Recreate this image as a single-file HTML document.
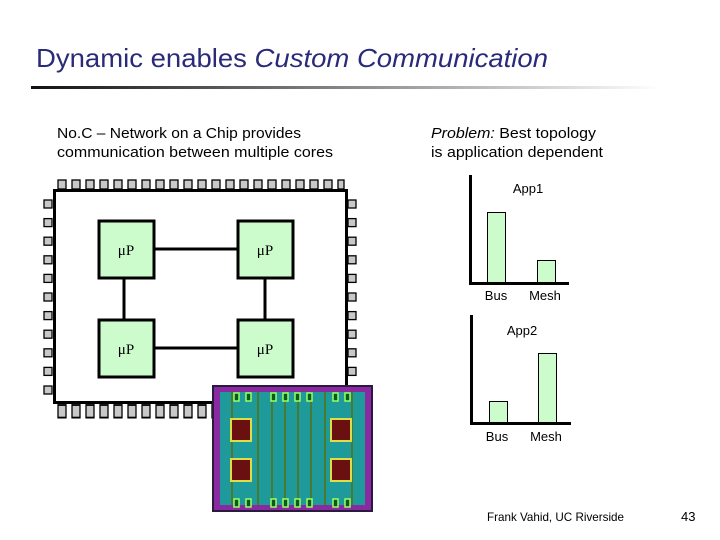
<!DOCTYPE html>
<html><head><meta charset="utf-8"><style>
html,body{margin:0;padding:0;background:#fff;}
svg{display:block;font-family:"Liberation Sans",sans-serif;}
</style></head><body>
<svg width="720" height="540" viewBox="0 0 720 540" xmlns="http://www.w3.org/2000/svg">
<defs>
<linearGradient id="ul" x1="0" x2="1" y1="0" y2="0">
<stop offset="0" stop-color="#111"/><stop offset="0.5" stop-color="#888"/><stop offset="1" stop-color="#fff"/>
</linearGradient>
</defs>
<text x="36" y="67" font-size="26" fill="#2a2a7a" textLength="512" lengthAdjust="spacingAndGlyphs">Dynamic enables <tspan font-style="italic">Custom Communication</tspan></text>
<rect x="31" y="86" width="630" height="3" fill="url(#ul)"/>

<text x="57" y="138" font-size="14.5" fill="#000" textLength="244" lengthAdjust="spacingAndGlyphs">No.C – Network on a Chip provides</text>
<text x="57" y="157" font-size="14.5" fill="#000" textLength="276" lengthAdjust="spacingAndGlyphs">communication between multiple cores</text>
<text x="431" y="138" font-size="14.5" fill="#000" textLength="165" lengthAdjust="spacingAndGlyphs"><tspan font-style="italic">Problem:</tspan> Best topology</text>
<text x="431" y="157" font-size="14.5" fill="#000" textLength="172" lengthAdjust="spacingAndGlyphs">is application dependent</text>

<g fill="#c8c8c8" stroke="#000" stroke-width="1.3">
<g id="tp">
<rect x="58" y="180" width="8" height="9"/><rect x="72" y="180" width="8" height="9"/><rect x="86" y="180" width="8" height="9"/><rect x="100" y="180" width="8" height="9"/><rect x="114" y="180" width="8" height="9"/><rect x="128" y="180" width="8" height="9"/><rect x="142" y="180" width="8" height="9"/><rect x="156" y="180" width="8" height="9"/><rect x="170" y="180" width="8" height="9"/><rect x="184" y="180" width="8" height="9"/><rect x="198" y="180" width="8" height="9"/><rect x="212" y="180" width="8" height="9"/><rect x="226" y="180" width="8" height="9"/><rect x="240" y="180" width="8" height="9"/><rect x="254" y="180" width="8" height="9"/><rect x="268" y="180" width="8" height="9"/><rect x="282" y="180" width="8" height="9"/><rect x="296" y="180" width="8" height="9"/><rect x="310" y="180" width="8" height="9"/><rect x="324" y="180" width="8" height="9"/><rect x="338" y="180" width="6" height="9"/>
</g>
<use href="#tp" transform="translate(0,405) scale(1,1.4) translate(0,-180)"/>
<g id="lp">
<rect x="44" y="200" width="8" height="8"/><rect x="44" y="218.6" width="8" height="8"/><rect x="44" y="237.2" width="8" height="8"/><rect x="44" y="255.8" width="8" height="8"/><rect x="44" y="274.4" width="8" height="8"/><rect x="44" y="293" width="8" height="8"/><rect x="44" y="311.6" width="8" height="8"/><rect x="44" y="330.2" width="8" height="8"/><rect x="44" y="348.8" width="8" height="8"/><rect x="44" y="367.4" width="8" height="8"/><rect x="44" y="386" width="8" height="8"/>
</g>
<use href="#lp" transform="translate(304,0)"/>
</g>
<rect x="54.5" y="190.5" width="292" height="212" fill="#fff" stroke="#000" stroke-width="3"/>

<g stroke="#000" stroke-width="3">
<line x1="154" y1="249" x2="237" y2="249"/>
<line x1="154" y1="348" x2="237" y2="348"/>
<line x1="124" y1="278" x2="124" y2="319"/>
<line x1="265" y1="278" x2="265" y2="319"/>
</g>
<g fill="#ccfccc" stroke="#000" stroke-width="3">
<rect x="99" y="221" width="55" height="57"/>
<rect x="238" y="221" width="55" height="57"/>
<rect x="99" y="320" width="55" height="57"/>
<rect x="238" y="320" width="55" height="57"/>
</g>
<g font-family="'Liberation Serif',serif" font-size="15" fill="#000" text-anchor="middle">
<text x="126" y="255">μP</text><text x="265" y="255">μP</text>
<text x="126" y="354">μP</text><text x="265" y="354">μP</text>
</g>

<rect x="212" y="385" width="161" height="127" fill="#2a1a40"/>
<rect x="214" y="387" width="157" height="123" fill="#8a2aa0"/>
<rect x="220" y="392" width="145" height="113" fill="#1e9a9a"/>
<g stroke="#4a7a30" stroke-width="2">
<line x1="232" y1="392" x2="232" y2="505"/><line x1="258" y1="392" x2="258" y2="505"/><line x1="272" y1="392" x2="272" y2="505"/><line x1="285" y1="392" x2="285" y2="505"/><line x1="298" y1="392" x2="298" y2="505"/><line x1="311" y1="392" x2="311" y2="505"/><line x1="325" y1="392" x2="325" y2="505"/><line x1="352" y1="392" x2="352" y2="505"/>
</g>
<g fill="#0a5a20" stroke="#9f6" stroke-width="1.5">
<rect x="234" y="393" width="5" height="8"/><rect x="246" y="393" width="5" height="8"/><rect x="271" y="393" width="5" height="8"/><rect x="283" y="393" width="5" height="8"/><rect x="295" y="393" width="5" height="8"/><rect x="307" y="393" width="5" height="8"/><rect x="333" y="393" width="5" height="8"/><rect x="345" y="393" width="5" height="8"/>
<rect x="234" y="499" width="5" height="8"/><rect x="246" y="499" width="5" height="8"/><rect x="271" y="499" width="5" height="8"/><rect x="283" y="499" width="5" height="8"/><rect x="295" y="499" width="5" height="8"/><rect x="307" y="499" width="5" height="8"/><rect x="333" y="499" width="5" height="8"/><rect x="345" y="499" width="5" height="8"/>
</g>
<g fill="#6a1010" stroke="#dd4" stroke-width="2">
<rect x="231" y="419" width="20" height="22"/><rect x="331" y="419" width="20" height="22"/>
<rect x="231" y="459" width="20" height="22"/><rect x="331" y="459" width="20" height="22"/>
</g>

<g stroke="#000" stroke-width="3" fill="none">
<polyline points="470.5,175 470.5,283.5 569,283.5"/>
<polyline points="471.5,315 471.5,423.5 571,423.5"/>
</g>
<g fill="#ccfccc" stroke="#000" stroke-width="1">
<rect x="487.5" y="212.5" width="18" height="70"/>
<rect x="537.5" y="260.5" width="18" height="22"/>
<rect x="489.5" y="401.5" width="18" height="21"/>
<rect x="538.5" y="353.5" width="18" height="69"/>
</g>
<g font-size="13" fill="#000" text-anchor="middle">
<text x="528" y="193">App1</text>
<text x="496" y="300">Bus</text><text x="545" y="300">Mesh</text>
<text x="522" y="335">App2</text>
<text x="497" y="441">Bus</text><text x="546" y="441">Mesh</text>
</g>

<text x="487" y="521" font-size="12" fill="#000" textLength="137" lengthAdjust="spacingAndGlyphs">Frank Vahid, UC Riverside</text>
<text x="681" y="521" font-size="13" fill="#000">43</text>
</svg>
</body></html>
